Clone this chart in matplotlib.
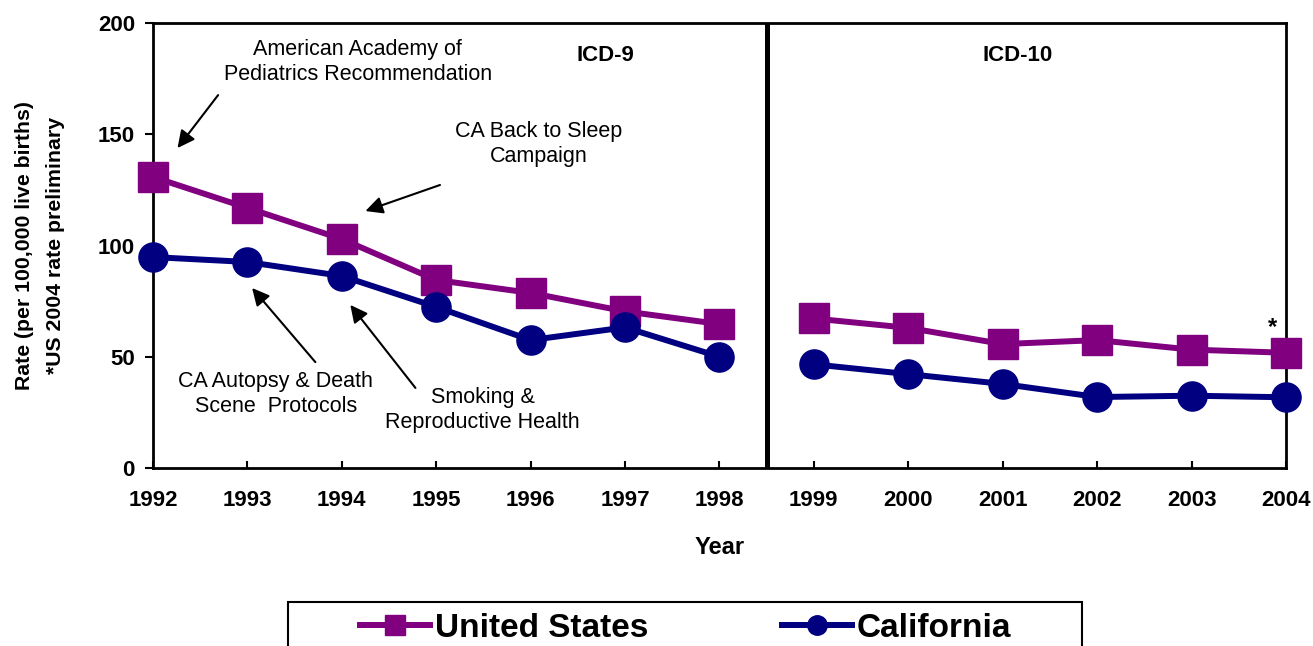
import numpy as np
import matplotlib
matplotlib.use('Agg')
import matplotlib.pyplot as plt
from matplotlib.lines import Line2D
from matplotlib.patches import Rectangle

plt.rcParams['font.family'] = ['Liberation Sans', 'DejaVu Sans']

years = [1992, 1993, 1994, 1995, 1996, 1997, 1998, 1999, 2000, 2001, 2002, 2003, 2004]
us_rate = [130.8, 116.9, 102.9, 84.5, 78.7, 70.4, 64.7, 67.2, 63.0, 55.7, 57.5, 53.2, 51.8]
ca_rate = [94.8, 92.6, 86.3, 72.4, 57.5, 63.2, 50.0, 46.6, 42.2, 37.8, 31.9, 32.5, 31.8]
split = 7  # ICD-9 years: 1992-1998, ICD-10 years: 1999-2004

us_col = '#800080'
ca_col = '#000080'

fig = plt.figure(figsize=(13.13, 6.46), dpi=100)
ax = fig.add_axes([0.1165, 0.2755, 0.8629, 0.6889])

for seg in (slice(0, split), slice(split, None)):
    ax.plot(years[seg], us_rate[seg], color=us_col, lw=4.3, marker='s', ms=21, zorder=3, clip_on=False)
    ax.plot(years[seg], ca_rate[seg], color=ca_col, lw=4.3, marker='o', ms=21, zorder=3, clip_on=False)

ax.plot([1998.5, 1998.5], [1.5, 200], color='black', lw=3.6, zorder=2)

ax.set_xlim(1992, 2004)
ax.set_ylim(0, 200)
ax.set_xticks(years)
ax.set_xticklabels([str(y) for y in years], fontsize=16, fontweight='bold')
ax.set_yticks([0, 50, 100, 150, 200])
ax.set_yticklabels(['0', '50', '100', '150', '200'], fontsize=16, fontweight='bold')
ax.tick_params(axis='x', direction='in', length=5, width=1.5, pad=16)
ax.tick_params(axis='y', direction='out', length=6, width=1.5, pad=7)
for s in ax.spines.values():
    s.set_linewidth(2)

ax.set_xlabel('Year', fontsize=17, fontweight='bold', labelpad=18)
ax.set_ylabel('Rate (per 100,000 live births)\n*US 2004 rate preliminary',
              fontsize=15.3, fontweight='bold', linespacing=1.8)
ax.yaxis.set_label_coords(-0.078, 0.5)

ax.text(1996.79, 185.6, 'ICD-9', fontsize=16, fontweight='bold', ha='center', va='center')
ax.text(2001.16, 185.6, 'ICD-10', fontsize=16, fontweight='bold', ha='center', va='center')
ax.text(2003.86, 63.0, '*', fontsize=17, fontweight='bold', ha='center', va='center')

arr = dict(arrowstyle='-|>', color='black', lw=1.5, mutation_scale=26, shrinkA=0, shrinkB=0)
notes = [
    ('American Academy of\nPediatrics Recommendation', (1994.17, 182.5), (1992.26, 143.8), (1992.69, 167.6)),
    ('CA Back to Sleep\nCampaign', (1996.09, 145.6), (1994.25, 115.5), (1995.04, 127.2)),
    ('CA Autopsy & Death\nScene  Protocols', (1993.30, 33.3), (1993.05, 80.9), (1993.72, 47.6)),
    ('Smoking &\nReproductive Health', (1995.49, 26.1), (1994.09, 73.3), (1994.78, 36.0)),
]
for label, txt_xy, head, tail in notes:
    ax.text(txt_xy[0], txt_xy[1], label, fontsize=15.5, ha='center', va='center', linespacing=1.3)
    ax.annotate('', xy=head, xytext=tail, arrowprops=arr)

# legend box, cut off at the bottom of the figure
fig.patches.append(Rectangle((0.2193, -0.06), 0.6047, 0.1281, transform=fig.transFigure,
                             fill=False, edgecolor='black', lw=1.5))
handles = [
    Line2D([], [], color=us_col, lw=4.3, marker='s', ms=14),
    Line2D([], [], color=ca_col, lw=4.3, marker='o', ms=14),
]
leg = fig.legend(handles, ['United States', 'California'], loc='center left',
                 bbox_to_anchor=(0.2742, 0.027), ncol=2, frameon=False,
                 prop={'size': 24, 'weight': 'bold'}, handlelength=2.1, handletextpad=0.15,
                 columnspacing=4.0, borderpad=0, borderaxespad=0)

fig.savefig('out.png', dpi=100)
